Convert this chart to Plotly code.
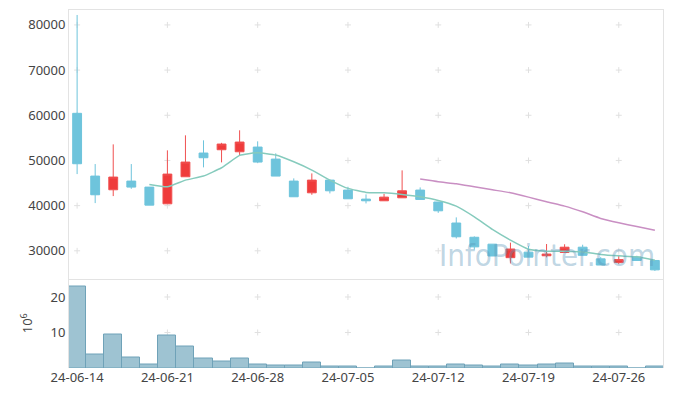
import plotly.graph_objects as go

dates = ["24-06-14", "24-06-17", "24-06-18", "24-06-19", "24-06-20", "24-06-21",
         "24-06-24", "24-06-25", "24-06-26", "24-06-27", "24-06-28",
         "24-07-01", "24-07-02", "24-07-03", "24-07-04", "24-07-05",
         "24-07-08", "24-07-09", "24-07-10", "24-07-11", "24-07-12",
         "24-07-15", "24-07-16", "24-07-17", "24-07-18", "24-07-19",
         "24-07-22", "24-07-23", "24-07-24", "24-07-25", "24-07-26",
         "24-07-29", "24-07-30"]

opens = [60430, 46540, 43510, 45430, 44100, 40400, 46390, 51640, 52370, 51920, 52960,
         50300, 45430, 42840, 45650, 43440, 41440, 41070, 41730, 43440, 40800,
         36150, 33000, 31470, 28480, 29700, 28900, 29630, 30800, 28220, 27420,
         28620, 27860]
closes = [49270, 42400, 46320, 44100, 40110, 46980, 49640, 50600, 53630, 54070, 49640,
          46540, 41960, 45650, 43280, 41510, 41070, 41880, 43280, 41370, 38850,
          33100, 30870, 28850, 30400, 28600, 29280, 30800, 29000, 26850, 28050,
          27860, 25780]
highs = [82200, 49200, 53560, 49200, 44100, 52230, 55560, 54450, 53900, 56670, 54230,
         51570, 46030, 47130, 45650, 44170, 42480, 42620, 47800, 44030, 40800,
         37400, 33200, 31470, 31800, 31050, 31500, 31450, 31350, 28600, 29100,
         28900, 27860]
lows = [46980, 40560, 42110, 43720, 40110, 40400, 46390, 48470, 49570, 51120, 49490,
        46540, 41960, 42400, 42700, 41510, 40490, 41070, 41730, 41370, 38400,
        32730, 30300, 28850, 27200, 28600, 28550, 29630, 29000, 26850, 27050,
        27860, 25550]

volumes_m = [23.0, 3.8, 9.5, 3.0, 1.0, 9.2, 6.1, 2.7, 1.9, 2.7, 1.0,
             0.7, 0.7, 1.6, 0.4, 0.4, 0.0, 0.4, 2.1, 0.4, 0.4,
             1.0, 0.7, 0.4, 1.0, 0.7, 1.0, 1.3, 0.4, 0.4, 0.4,
             0.0, 0.4]

ma5 = [None, None, None, None, 44700, 44170, 45650, 46540, 48380, 51120, 51700,
       51190, 49700, 47870, 45650, 43810, 42930, 42840, 42470, 41960, 41150,
       39890, 37520, 34730, 32360, 30360, 29920, 29920, 29760, 29190, 28880,
       28660, 27930]
ma20 = [None] * 19 + [45870, 45280, 44840, 44170, 43500, 42840, 41880, 40840,
                      39890, 38630, 37160, 36190, 35390, 34570]

x_tick_labels = ["24-06-14", "24-06-21", "24-06-28", "24-07-05", "24-07-12", "24-07-19", "24-07-26"]
price_ticks = [30000, 40000, 50000, 60000, 70000, 80000]
volume_ticks = [10, 20]

FONT = dict(family="Noto Sans", size=13, color="#444444")
FRAME = "#e3e3e3"
CROSS = "#e0e0e0"

fig = go.Figure()

fig.add_trace(go.Candlestick(
    x=dates, open=opens, high=highs, low=lows, close=closes,
    xaxis="x", yaxis="y",
    increasing=dict(line=dict(color="#f05050", width=1), fillcolor="#ef3b3b"),
    decreasing=dict(line=dict(color="#6ec4dc", width=1), fillcolor="#6ec4dc"),
    whiskerwidth=0, showlegend=False, hoverinfo="skip"))

fig.add_trace(go.Scatter(
    x=dates, y=ma5, mode="lines", xaxis="x", yaxis="y",
    line=dict(color="#86cbbd", width=1.5, shape="spline", smoothing=0.4),
    hoverinfo="skip", showlegend=False))
fig.add_trace(go.Scatter(
    x=dates, y=ma20, mode="lines", xaxis="x", yaxis="y",
    line=dict(color="#c98fc3", width=1.5, shape="spline", smoothing=0.4),
    hoverinfo="skip", showlegend=False))

fig.add_trace(go.Bar(
    x=dates, y=volumes_m, xaxis="x2", yaxis="y2",
    marker=dict(color="#9ec3d2", line=dict(color="#6fa2b8", width=1)),
    hoverinfo="skip", showlegend=False))

# faint "+" grid marks at tick intersections, drawn below the data
shapes = []
for xr_, yr_, ticks in (("x", "y", price_ticks), ("x2", "y2", volume_ticks)):
    for d in x_tick_labels:
        for v in ticks:
            shapes.append(dict(type="line", layer="below", xref=xr_, yref=yr_,
                               xsizemode="pixel", xanchor=d, x0=-3, x1=3, y0=v, y1=v,
                               line=dict(color=CROSS, width=1)))
            shapes.append(dict(type="line", layer="below", xref=xr_, yref=yr_,
                               ysizemode="pixel", yanchor=v, y0=-3, y1=3, x0=d, x1=d,
                               line=dict(color=CROSS, width=1)))

xr = [-0.45, 32.45]
fig.update_layout(
    width=673, height=396,
    margin=dict(l=69, r=10, t=10, b=28, autoexpand=False),
    paper_bgcolor="white", plot_bgcolor="white",
    bargap=0,
    font=FONT,
    shapes=shapes,
    xaxis=dict(domain=[0, 1], anchor="y", type="category",
               categoryorder="array", categoryarray=dates, range=xr,
               showticklabels=False, showgrid=False, zeroline=False,
               showline=True, mirror=True, linecolor=FRAME, linewidth=1,
               rangeslider=dict(visible=False), ticks=""),
    yaxis=dict(domain=[0.25, 1], anchor="x", range=[23870, 83300],
               tickvals=price_ticks, tickformat="d", showgrid=False, zeroline=False,
               showline=True, mirror=True, linecolor=FRAME, linewidth=1,
               ticks="", tickfont=FONT, automargin=False),
    xaxis2=dict(domain=[0, 1], anchor="y2", type="category",
                categoryorder="array", categoryarray=dates, range=xr,
                tickvals=x_tick_labels, ticktext=x_tick_labels,
                showgrid=False, zeroline=False, showline=False,
                rangeslider=dict(visible=False), ticks="", tickfont=FONT,
                automargin=False),
    yaxis2=dict(domain=[0, 0.25], anchor="x2", range=[0, 25.2],
                tickvals=volume_ticks, showgrid=False, zeroline=False,
                showline=True, mirror=True, linecolor=FRAME, linewidth=1,
                ticks="", tickfont=FONT, automargin=False,
                title=dict(text="10<sup>6</sup>", font=FONT, standoff=14)),
    annotations=[dict(text="InfoPointer.com", xref="paper", yref="paper",
                      x=0.805, y=0.316, xanchor="center", yanchor="middle",
                      showarrow=False,
                      font=dict(family="Liberation Sans Narrow, DejaVu Sans Condensed, Roboto",
                                size=31, color="rgba(90,150,185,0.4)"))],
)

fig.write_html("out.html", config={"displayModeBar": False},
               post_script="document.body.style.margin='0';")
